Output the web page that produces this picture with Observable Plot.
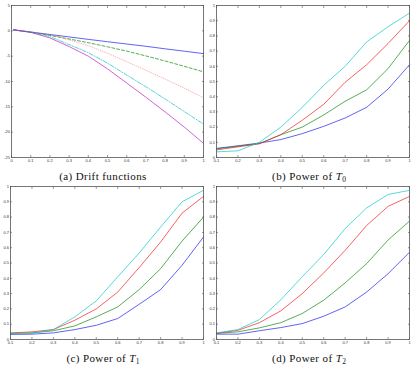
<!DOCTYPE html>
<html><head><meta charset="utf-8">
<script src="https://cdn.jsdelivr.net/npm/d3@7"></script>
<script src="https://cdn.jsdelivr.net/npm/@observablehq/plot@0.6"></script>
<style>
html,body{margin:0;padding:0;background:#fff}
body{width:413px;height:367px;position:relative;overflow:hidden}
.panel{position:absolute}
.panel svg{display:block}
.cap{position:absolute;font-family:"Liberation Serif","Times New Roman","DejaVu Serif",serif;font-weight:normal;font-size:11px;letter-spacing:0.4px;line-height:14px;text-align:center;width:200px;color:#111;white-space:nowrap}
.cap sub{font-size:7.5px;line-height:0;vertical-align:-2px;letter-spacing:0}
</style></head><body>
<div id="pa" class="panel" style="left:0;top:0"></div>
<div id="pb" class="panel" style="left:205px;top:0"></div>
<div id="pc" class="panel" style="left:0;top:181px"></div>
<div id="pd" class="panel" style="left:205px;top:181px"></div>
<div class="cap" style="left:3px;top:169px">(a) Drift functions</div>
<div class="cap" style="left:209px;top:169px">(b) Power of <i>T</i><sub>0</sub></div>
<div class="cap" style="left:3px;top:351px">(c) Power of <i>T</i><sub>1</sub></div>
<div class="cap" style="left:209px;top:351px">(d) Power of <i>T</i><sub>2</sub></div>
<script>
// ---- Panel (a): drift functions ----
const driftX = [0.01, 0.1, 0.2, 0.3, 0.4, 0.5, 0.6, 0.7, 0.8, 0.9, 1];
const driftF1 = [0.2, -0.25, -0.72, -1.2, -1.68, -2.15, -2.6, -3.05, -3.55, -4.02, -4.5];
const driftF2 = [0.2, -0.3, -0.9, -1.6, -2.35, -3.15, -4.0, -4.95, -5.95, -7.0, -8.1];
const driftF3 = [0.2, -0.15, -0.76, -1.78, -2.92, -4.42, -6.1, -7.78, -9.52, -11.32, -13.2];
const driftF4 = [0.2, -0.22, -1.13, -2.71, -4.32, -6.39, -8.72, -11.04, -13.45, -15.94, -18.4];
const driftF5 = [0.2, -0.3, -1.4, -3.1, -5.0, -7.5, -10.3, -13.1, -16.0, -19.0, -22.2];
const driftNames = ["f1", "f2", "f3", "f4", "f5"];
const driftXTicks = [0, 0.1, 0.2, 0.3, 0.4, 0.5, 0.6, 0.7, 0.8, 0.9, 1];
const driftYTicks = [-25, -20, -15, -10, -5, 0, 5];

// ---- Panels (b)-(d): power ----
const powerX = [0.1, 0.2, 0.3, 0.4, 0.5, 0.6, 0.7, 0.8, 0.9, 1];
const powerNames = ["s1", "s2", "s3", "s4"];
const t0Blue  = [0.06, 0.077, 0.095, 0.118, 0.157, 0.205, 0.26, 0.33, 0.45, 0.61];
const t0Green = [0.057, 0.074, 0.092, 0.15, 0.20, 0.28, 0.37, 0.445, 0.585, 0.77];
const t0Red   = [0.05, 0.07, 0.09, 0.15, 0.245, 0.35, 0.495, 0.61, 0.75, 0.90];
const t0Cyan  = [0.037, 0.044, 0.10, 0.20, 0.33, 0.475, 0.60, 0.76, 0.86, 0.95];
const t1Blue  = [0.033, 0.035, 0.043, 0.065, 0.093, 0.137, 0.23, 0.326, 0.485, 0.67];
const t1Green = [0.04, 0.043, 0.057, 0.089, 0.148, 0.213, 0.326, 0.463, 0.643, 0.80];
const t1Red   = [0.043, 0.05, 0.065, 0.126, 0.20, 0.31, 0.47, 0.637, 0.826, 0.935];
const t1Cyan  = [0.035, 0.04, 0.065, 0.148, 0.252, 0.41, 0.565, 0.735, 0.90, 0.975];
const t2Blue  = [0.035, 0.035, 0.057, 0.078, 0.104, 0.152, 0.213, 0.31, 0.43, 0.57];
const t2Green = [0.04, 0.05, 0.076, 0.11, 0.17, 0.257, 0.37, 0.496, 0.65, 0.774];
const t2Red   = [0.04, 0.06, 0.11, 0.187, 0.30, 0.435, 0.583, 0.745, 0.87, 0.935];
const t2Cyan  = [0.043, 0.065, 0.13, 0.26, 0.41, 0.556, 0.725, 0.86, 0.948, 0.975];
const powerXTicks = [0.1, 0.2, 0.3, 0.4, 0.5, 0.6, 0.7, 0.8, 0.9, 1];
const powerYTicks = [0, 0.1, 0.2, 0.3, 0.4, 0.5, 0.6, 0.7, 0.8, 0.9, 1];

// styles
const driftColors = ["#2020ee", "#108a10", "#f04040", "#10c0c0", "#c020c0"];
const driftDash = [null, "3,2", "0.7,1.6", "4,1.5,1,1.5", null];
const driftOpacity = [1, 1, 0.55, 1, 1];
const powerColors = ["#2020ee", "#108a10", "#f02020", "#10c8c8"];

function rows(xs, names, series) {
  return series.flatMap((ys, i) => ys.map((y, j) => ({x: xs[j], y, s: names[i]})));
}
const fmt = d => String(Math.round(d * 10) / 10);

function panel({data, names, colors, dashes, opac, xDomain, yDomain, xTicks, yTicks, marginLeft, innerW, innerH}) {
  const mt = 5, mb = 8, mr = 4;
  const tickStyle = {tickSize: -2, label: null, stroke: "#555", strokeWidth: 0.6};
  return Plot.plot({
    width: marginLeft + innerW + mr,
    height: mt + innerH + mb,
    marginLeft, marginRight: mr, marginTop: mt, marginBottom: mb,
    style: {fontFamily: "'Liberation Sans', Arial, sans-serif", fontSize: "4px", color: "#333", background: "white"},
    x: {domain: xDomain},
    y: {domain: yDomain},
    color: {domain: names, range: colors},
    marks: [
      Plot.axisX(xTicks, {anchor: "bottom", ...tickStyle, tickPadding: 3.2, tickFormat: fmt, fill: "#333"}),
      Plot.axisX(xTicks, {anchor: "top", ...tickStyle, fill: "none"}),
      Plot.axisY(yTicks, {anchor: "left", ...tickStyle, tickPadding: 3.5, tickFormat: fmt, fill: "#333"}),
      Plot.axisY(yTicks, {anchor: "right", ...tickStyle, fill: "none"}),
      ...names.map((n, i) => Plot.line(data.filter(d => d.s === n), {
        x: "x", y: "y", stroke: "s", strokeWidth: 0.7,
        strokeDasharray: dashes ? dashes[i] : null,
        strokeOpacity: opac ? opac[i] : 1
      })),
      Plot.frame({stroke: "#555", strokeWidth: 0.8})
    ]
  });
}

document.getElementById("pa").append(panel({
  data: rows(driftX, driftNames, [driftF1, driftF2, driftF3, driftF4, driftF5]),
  names: driftNames, colors: driftColors, dashes: driftDash, opac: driftOpacity,
  xDomain: [0, 1], yDomain: [-25, 5], xTicks: driftXTicks, yTicks: driftYTicks,
  marginLeft: 11, innerW: 192, innerH: 152
}));
document.getElementById("pb").append(panel({
  data: rows(powerX, powerNames, [t0Blue, t0Green, t0Red, t0Cyan]),
  names: powerNames, colors: powerColors,
  xDomain: [0.1, 1], yDomain: [0, 1], xTicks: powerXTicks, yTicks: powerYTicks,
  marginLeft: 11, innerW: 193, innerH: 152
}));
document.getElementById("pc").append(panel({
  data: rows(powerX, powerNames, [t1Blue, t1Green, t1Red, t1Cyan]),
  names: powerNames, colors: powerColors,
  xDomain: [0.1, 1], yDomain: [0, 1], xTicks: powerXTicks, yTicks: powerYTicks,
  marginLeft: 10, innerW: 193, innerH: 153
}));
document.getElementById("pd").append(panel({
  data: rows(powerX, powerNames, [t2Blue, t2Green, t2Red, t2Cyan]),
  names: powerNames, colors: powerColors,
  xDomain: [0.1, 1], yDomain: [0, 1], xTicks: powerXTicks, yTicks: powerYTicks,
  marginLeft: 11, innerW: 193, innerH: 153
}));
</script>
</body></html>
